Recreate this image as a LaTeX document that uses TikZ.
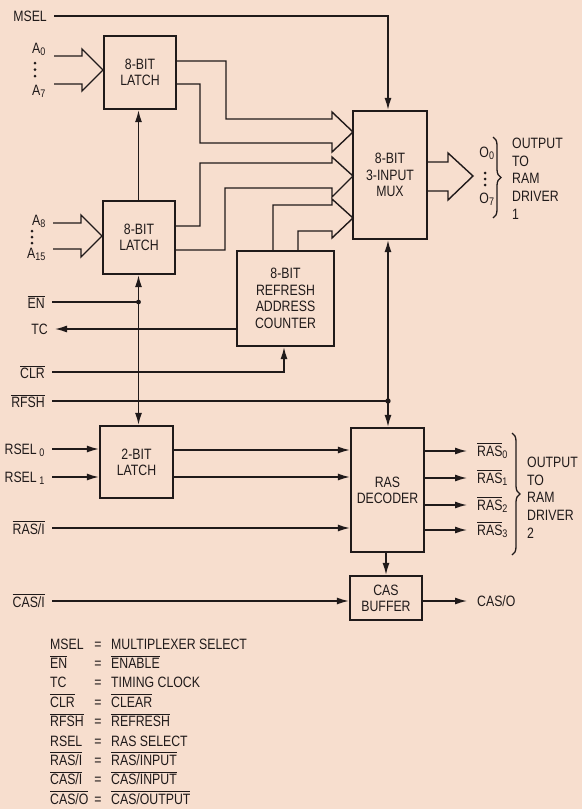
\documentclass[tikz,border=0pt]{standalone}
\usepackage{fontspec}
\setmainfont{Liberation Sans}[FakeStretch=0.82]
\usetikzlibrary{arrows.meta,decorations.pathreplacing}
\definecolor{bg}{RGB}{247,222,206}
\definecolor{ink}{RGB}{32,26,26}
\newcommand\ovl[1]{\leavevmode\vbox{\hrule height 1pt\kern1.4pt\hbox{#1}}}
\newcommand\sub[1]{\textsubscript{\fontsize{11}{11}\selectfont #1}}
\newcommand\legrow[4]{%
  \node[anchor=base west] (ka#1) at (50,#2) {#3};
  \node[anchor=base] (eq#1) at (98,#2) {=};
  \node[anchor=base west] (va#1) at (111,#2) {#4};}
\begin{document}
\begin{tikzpicture}[x=1pt,y=-1pt,
  every node/.style={text=ink, font=\fontsize{15}{17.6}\selectfont, inner sep=0pt},
  blk/.style={draw=ink, line width=2.3pt, align=center, font=\fontsize{15}{16.2}\selectfont},
  wire/.style={draw=ink, line width=1.4pt, line join=miter},
  arr/.style={wire, -{Latex[length=12pt,width=7pt]}},
  lbl/.style={anchor=east, inner xsep=7pt, text depth=0pt},
  brc/.style={draw=ink, line width=1.3pt, decorate, decoration={brace, amplitude=8pt}}]
\fill[bg] (0,0) rectangle (582,809);
\useasboundingbox (0,0) rectangle (582,809);

% blocks
\node[blk, minimum width=72pt, minimum height=73pt] (L1) at (140,72.5) {8-BIT\\LATCH};
\node[blk, minimum width=72pt, minimum height=73pt] (L2) at (139,237.5) {8-BIT\\LATCH};
\node[blk, minimum width=74pt, minimum height=128pt] (MUX) at (390,175) {8-BIT\\3-INPUT\\MUX};
\node[blk, minimum width=97pt, minimum height=95pt, font=\fontsize{15}{16.6}\selectfont] (CNT) at (285.5,298.5) {8-BIT\\REFRESH\\ADDRESS\\COUNTER};
\node[blk, minimum width=73pt, minimum height=72pt] (L3) at (136.5,462) {2-BIT\\LATCH};
\node[blk, minimum width=73pt, minimum height=124pt] (DEC) at (387.5,490) {RAS\\DECODER};
\node[blk, minimum width=72pt, minimum height=44pt] (CASB) at (386,598) {CAS\\BUFFER};

% MSEL
\node[lbl] (msel) at (54,16) {MSEL};
\draw[arr] (msel.east) -| ([xshift=-2pt]MUX.north);

% A0..A7 bus
\node[anchor=base east] (a0) at (46,53) {A\sub{0}};
\node[anchor=base east] (a7) at (46,95) {A\sub{7}};
\foreach \yy in {63,69.5,76} \fill[ink] (35,\yy) circle (1.5);
\draw[wire] (54,56) -- (82,56) -- (82,49) -- (103,70) -- (82,91) -- (82,84) -- (54,84);

% A8..A15 bus
\node[anchor=base east] (a8) at (46,225) {A\sub{8}};
\node[anchor=base east] (a15) at (46,258) {A\sub{15}};
\foreach \yy in {231,237,243} \fill[ink] (32,\yy) circle (1.5);
\draw[wire] (53,223) -- (81,223) -- (81,215) -- (102,236) -- (81,257) -- (81,249) -- (53,249);

% latch outputs into mux (bus arrows)
\draw[wire] (L1.east |- 0,61) -- (226,61) -- (226,119) -- (332,119) -- (332,112) -- (353,132) -- (332,152) -- (332,143) -- (200,143) -- (200,84) -- (L1.east |- 0,84);
\draw[wire] (L2.east |- 0,226) -- (200,226) -- (200,163) -- (332,163) -- (332,157) -- (353,176) -- (332,197) -- (332,188) -- (225,188) -- (225,250) -- (L2.east |- 0,250);
\draw[wire] (CNT.north -| 273,0) -- (273,205) -- (332,205) -- (332,199) -- (353,218) -- (332,238) -- (332,231) -- (298,231) -- (CNT.north -| 298,0);

% mux output
\draw[wire] (MUX.east |- 0,162) -- (448,162) -- (448,153) -- (473,176) -- (448,200) -- (448,191) -- (MUX.east |- 0,191);
\node[anchor=base] (o0) at (487,157) {O\sub{0}};
\node[anchor=base] (o7) at (487,203) {O\sub{7}};
\foreach \yy in {173,179,185} \fill[ink] (485,\yy) circle (1.5);
\draw[brc] (493,137) -- (493,218);
\node[anchor=north west, align=left] (out1) at (512,138) {OUTPUT\\TO\\RAM\\DRIVER\\1};

% EN and latch enables
\node[lbl] (en) at (52,302) {\ovl{EN}};
\coordinate (j1) at (138.5,302);
\draw[wire] (en.east) -- (j1);
\draw[arr] (j1) -- (j1 |- L2.south);
\draw[arr] (j1) -- (j1 |- L3.north);
\draw[arr] (L2.north -| j1) -- (L1.south -| j1);
\fill[ink] (j1) circle (2.4);

% TC
\node[lbl] (tc) at (55,329) {TC};
\draw[arr] (CNT.west |- 0,329) -- (tc.east);

% CLR
\node[lbl] (clr) at (52,372) {\ovl{CLR}};
\draw[arr] (clr.east) -| ([xshift=-1.5pt]CNT.south);

% RFSH
\node[lbl] (rfsh) at (52,401) {\ovl{RFSH}};
\coordinate (j2) at (388,401);
\draw[wire] (rfsh.east) -- (j2);
\draw[arr] (j2) -- (j2 |- MUX.south);
\draw[arr] (j2) -- (j2 |- DEC.north);
\fill[ink] (j2) circle (2.7);

% RSEL
\node[lbl] (rs0) at (52,449) {RSEL\,\sub{0}};
\node[lbl] (rs1) at (52,477) {RSEL\,\sub{1}};
\draw[arr] (rs0.east) -- (rs0.east -| L3.west);
\draw[arr] (rs1.east) -- (rs1.east -| L3.west);
\draw[arr] (L3.east |- 0,450) -- (DEC.west |- 0,450);
\draw[arr] (L3.east |- 0,477) -- (DEC.west |- 0,477);

% RAS/I
\node[lbl] (rasi) at (52,528) {\ovl{RAS/I}};
\draw[arr] (rasi.east) -- (rasi.east -| DEC.west);

% decoder outputs
\foreach \i/\yy in {0/451,1/478,2/505,3/530} {
  \node[anchor=west] (r\i) at (477,\yy) {\ovl{RAS}\sub{\i}};
  \draw[arr] (DEC.east |- r\i.west) -- ([xshift=-10pt]r\i.west);
}
\draw[brc] (512,433) -- (512,555);
\node[anchor=north west, align=left] (out2) at (527,457) {OUTPUT\\TO\\RAM\\DRIVER\\2};

% CAS
\draw[arr] (DEC.south -| 386,0) -- (CASB.north -| 386,0);
\node[lbl] (casi) at (52,601) {\ovl{CAS/I}};
\draw[arr] (casi.east) -- (casi.east -| CASB.west);
\node[anchor=west] (caso) at (477,601) {CAS/O};
\draw[arr] (CASB.east |- caso.west) -- ([xshift=-10pt]caso.west);

% legend
\legrow{1}{649}{MSEL}{MULTIPLEXER SELECT}
\legrow{2}{668.4}{\ovl{EN}}{\ovl{ENABLE}}
\legrow{3}{687.8}{TC}{TIMING CLOCK}
\legrow{4}{707.2}{\ovl{CLR}}{\ovl{CLEAR}}
\legrow{5}{726.6}{\ovl{RFSH}}{\ovl{REFRESH}}
\legrow{6}{746}{RSEL}{RAS SELECT}
\legrow{7}{765.4}{\ovl{RAS/I}}{\ovl{RAS/INPUT}}
\legrow{8}{784.8}{\ovl{CAS/I}}{\ovl{CAS/INPUT}}
\legrow{9}{804.2}{\ovl{CAS/O}}{\ovl{CAS/OUTPUT}}
\end{tikzpicture}
\end{document}
